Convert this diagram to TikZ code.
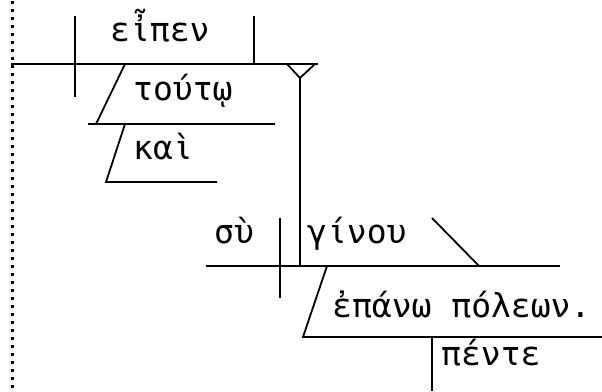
\documentclass[tikz,border=0pt]{standalone}
\usepackage{fontspec}
\newfontfamily\grk{DejaVu Sans Mono}
\begin{document}
\begin{tikzpicture}[x=1pt,y=-1pt,
  ln/.style={line width=1.8pt},
  word/.style={anchor=base west,inner sep=0pt,font=\grk\fontsize{33}{33}\selectfont}]
\useasboundingbox (0,0) rectangle (602,391);
\draw[line width=3pt,dash pattern=on 3pt off 5pt] (12,1) -- (12,391);
% coordinates
\coordinate (b1l) at (11,64);  \coordinate (b1r) at (318,64);
\coordinate (d1t) at (75,16);  \coordinate (d1b) at (75,97);
\coordinate (p1t) at (254,16); \coordinate (p1b) at (254,64);
\coordinate (s1t) at (125,64); \coordinate (s1b) at (96,124);
\coordinate (h1l) at (88,124); \coordinate (h1r) at (275,124);
\coordinate (s2t) at (125,124); \coordinate (s2b) at (106,182);
\coordinate (h2r) at (217,182);
\coordinate (yl) at (287,64); \coordinate (yr) at (315,64); \coordinate (ya) at (300,78);
\coordinate (b2l) at (206,266); \coordinate (b2r) at (560,266);
\coordinate (ys) at (300,266);
\coordinate (d2t) at (280,218); \coordinate (d2b) at (280,298);
\coordinate (ct) at (432,218); \coordinate (cb) at (479,266);
\coordinate (s3t) at (327,266); \coordinate (s3b) at (303,337);
\coordinate (h3r) at (602,337);
\coordinate (vt) at (432,337); \coordinate (vb) at (432,391);
% lines
\draw[ln] (b1l) -- (b1r);
\draw[ln] (d1t) -- (d1b);
\draw[ln] (p1t) -- (p1b);
\draw[ln] (s1t) -- (s1b);
\draw[ln] (h1l) -- (h1r);
\draw[ln] (s2t) -- (s2b) -- (h2r);
\draw[ln] (yl) -- (ya) -- (yr);
\draw[ln] (ya) -- (ys);
\draw[ln] (b2l) -- (b2r);
\draw[ln] (d2t) -- (d2b);
\draw[ln] (ct) -- (cb);
\draw[ln] (s3t) -- (s3b) -- (h3r);
\draw[ln] (vt) -- (vb);
% words
\node[word] (w1) at (110,41) {εἶπεν};
\node[word] (w2) at (133,100) {τούτῳ};
\node[word] (w3) at (133,159) {καὶ};
\node[word] (w4) at (214,243) {σὺ};
\node[word] (w5) at (307,243) {γίνου};
\node[word] (w6) at (332,317) {ἐπάνω πόλεων.};
\node[word] (w7) at (441,365) {πέντε};
\end{tikzpicture}
\end{document}
